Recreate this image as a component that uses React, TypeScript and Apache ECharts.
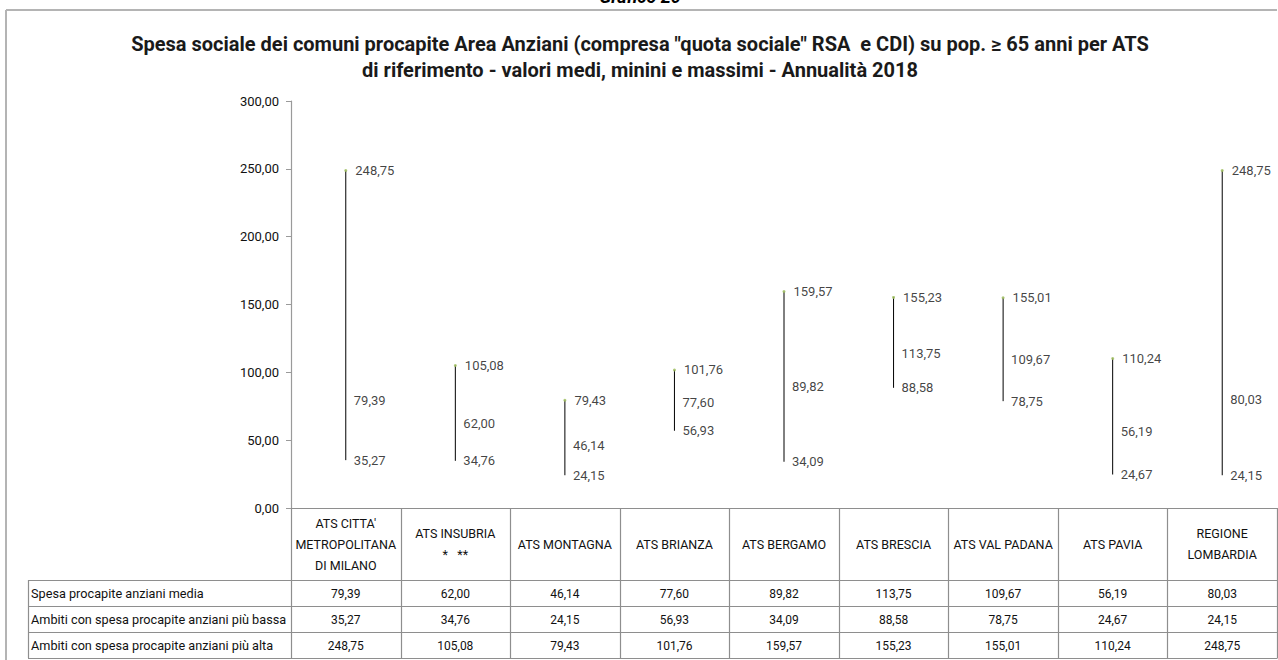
import React, { useEffect, useRef } from "react";
import * as echarts from "echarts";

const categories = [
  "ATS CITTA'\nMETROPOLITANA\nDI MILANO",
  "ATS INSUBRIA\n*   **",
  "ATS MONTAGNA",
  "ATS BRIANZA",
  "ATS BERGAMO",
  "ATS BRESCIA",
  "ATS VAL PADANA",
  "ATS PAVIA",
  "REGIONE\nLOMBARDIA",
];
const meanValues = [79.39, 62.0, 46.14, 77.6, 89.82, 113.75, 109.67, 56.19, 80.03];
const minValues = [35.27, 34.76, 24.15, 56.93, 34.09, 88.58, 78.75, 24.67, 24.15];
const maxValues = [248.75, 105.08, 79.43, 101.76, 159.57, 155.23, 155.01, 110.24, 248.75];
const rowLabels = [
  "Spesa procapite anziani media",
  "Ambiti con spesa procapite anziani più bassa",
  "Ambiti con spesa procapite anziani più alta",
];
const yTicks = { min: 0, max: 300, interval: 50 };
const titleLines = [
  'Spesa sociale dei comuni procapite Area Anziani (compresa "quota sociale" RSA  e CDI) su pop. ≥ 65 anni per ATS',
  "di riferimento - valori medi, minini e massimi - Annualità 2018",
];
const topText = "Grafico 20";

const FONT = "Roboto, 'Noto Sans', sans-serif";
const fmt = (v: number) => v.toFixed(2).replace(".", ",");

export default function App() {
  const ref = useRef<HTMLDivElement>(null);
  useEffect(() => {
    if (!ref.current) return;
    const chart = echarts.init(ref.current, null, { renderer: "svg" });
    const GL = 291;
    const GR = 1277;
    const GT = 101;
    const GB = 508;
    const colW = (GR - GL) / categories.length;
    const headerBottom = 580;
    const rowH = 26;
    const tableLeft = 28;
    const lineColor = "#8e8e8e";

    const graphics: any[] = [];
    // frame
    graphics.push({ type: "line", shape: { x1: 6, y1: 10, x2: 1277, y2: 10 }, style: { stroke: "#b4b4b4", lineWidth: 2 } });
    graphics.push({ type: "line", shape: { x1: 6, y1: 10, x2: 6, y2: 660 }, style: { stroke: "#b4b4b4", lineWidth: 2 } });
    graphics.push({
      type: "text",
      x: 640,
      y: 5,
      style: { text: topText, font: `italic bold 18px ${FONT}`, fill: "#000", align: "center", verticalAlign: "bottom" },
    });
    titleLines.forEach((t, i) => {
      graphics.push({
        type: "text",
        x: 640,
        y: 44 + i * 26,
        style: { text: t, font: `bold 20px ${FONT}`, fill: "#1a1a1a", align: "center", verticalAlign: "middle" },
      });
    });
    // table lines
    for (let i = 0; i <= categories.length; i++) {
      const x = Math.round(GL + i * colW) + 0.5;
      graphics.push({ type: "line", shape: { x1: x, y1: GB, x2: x, y2: headerBottom + 3 * rowH }, style: { stroke: lineColor, lineWidth: 1.2 } });
    }
    graphics.push({ type: "line", shape: { x1: tableLeft + 0.5, y1: headerBottom, x2: tableLeft + 0.5, y2: headerBottom + 3 * rowH }, style: { stroke: lineColor, lineWidth: 1.2 } });
    for (let r = 0; r <= 3; r++) {
      const y = headerBottom + r * rowH + 0.5;
      graphics.push({ type: "line", shape: { x1: tableLeft, y1: y, x2: GR + 0.5, y2: y }, style: { stroke: lineColor, lineWidth: 1.2 } });
    }
    const rows = [meanValues, minValues, maxValues];
    rows.forEach((vals, r) => {
      const cy = headerBottom + r * rowH + rowH / 2 + 0.5;
      graphics.push({
        type: "text",
        x: tableLeft + 3,
        y: cy,
        style: { text: rowLabels[r], font: `12.7px ${FONT}`, fill: "#111", align: "left", verticalAlign: "middle" },
      });
      vals.forEach((v, i) => {
        graphics.push({
          type: "text",
          x: GL + (i + 0.5) * colW,
          y: cy,
          style: { text: fmt(v), font: `12px ${FONT}`, fill: "#111", align: "center", verticalAlign: "middle" },
        });
      });
    });

    const labelBase = {
      show: true,
      position: "right" as const,
      distance: 8,
      fontFamily: FONT,
      fontSize: 13,
      color: "#111",
      formatter: (p: any) => fmt(p.value[1]),
    };

    chart.setOption({
      animation: false,
      grid: { left: GL, top: GT, width: GR - GL, height: GB - GT },
      xAxis: {
        type: "category",
        data: categories,
        boundaryGap: true,
        axisLine: { show: true, lineStyle: { color: lineColor, width: 1.2 } },
        axisTick: { show: false },
        axisLabel: {
          interval: 0,
          margin: 36,
          verticalAlign: "middle",
          fontFamily: FONT,
          fontSize: 12.5,
          lineHeight: 21,
          color: "#111",
          align: "center",
        },
        splitLine: { show: false },
      },
      yAxis: {
        type: "value",
        min: yTicks.min,
        max: yTicks.max,
        interval: yTicks.interval,
        axisLine: { show: true, lineStyle: { color: "#9a9a9a", width: 1.2 } },
        axisTick: { show: true, inside: false, length: 5, lineStyle: { color: "#9a9a9a" } },
        axisLabel: { formatter: (v: number) => fmt(v), fontFamily: FONT, fontSize: 13, color: "#111", margin: 12 },
        splitLine: { show: false },
      },
      series: [
        {
          type: "custom",
          name: "range",
          data: categories.map((_, i) => [i, minValues[i], maxValues[i]]),
          renderItem: (params: any, api: any) => {
            const p1 = api.coord([api.value(0), api.value(1)]);
            const p2 = api.coord([api.value(0), api.value(2)]);
            return {
              type: "line",
              shape: { x1: p1[0], y1: p1[1], x2: p2[0], y2: p2[1] },
              style: { stroke: "#000", lineWidth: 1 },
            };
          },
          silent: true,
        },
        {
          type: "scatter",
          name: "max",
          data: categories.map((_, i) => [i, maxValues[i]]),
          symbolSize: 3,
          itemStyle: { color: "#9bbb59" },
          label: labelBase,
          z: 3,
        },
        {
          type: "scatter",
          name: "mean",
          data: categories.map((_, i) => [i, meanValues[i]]),
          symbolSize: 0,
          label: labelBase,
        },
        {
          type: "scatter",
          name: "min",
          data: categories.map((_, i) => [i, minValues[i]]),
          symbolSize: 0,
          label: labelBase,
        },
      ],
      graphic: graphics,
    });
    return () => chart.dispose();
  }, []);
  return (
    <div
      ref={ref}
      style={{ position: "fixed", left: 0, top: 0, width: 1278, height: 660, background: "#fff" }}
    />
  );
}
